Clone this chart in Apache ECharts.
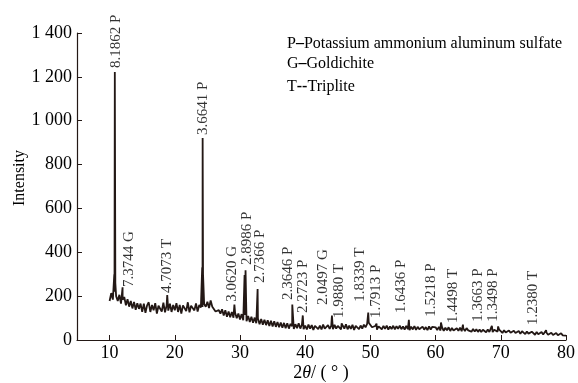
<!DOCTYPE html>
<html>
<head>
<meta charset="utf-8">
<script src="https://cdn.jsdelivr.net/npm/echarts@6/dist/echarts.min.js"></script>
<style>html,body{margin:0;padding:0;background:#fff}#c{width:578px;height:383px}</style>
</head>
<body>
<div id="c"></div>
<script>
// Background scan: 2θ from 10 to 80 in 0.25° steps (intensity values)
const bgStart = 10, bgStep = 0.25;
const bgValues = [
  178,214,184,220,200,178,206,166,184,196,158,186,152,178,144,174,138,168,142,166,
  128,166,124,158,172,128,160,136,168,120,156,164,130,170,126,158,134,166,128,160,
  136,168,128,160,120,158,166,132,172,126,156,164,135,167,130,160,148,150,164,152,
  174,146,180,152,150,130,136,136,120,140,112,136,106,130,104,128,102,124,99,121,
  94,118,90,114,86,110,82,106,79,102,76,98,72,96,70,92,68,90,64,88,
  62,86,60,82,58,80,56,78,54,76,52,74,63,50,72,54,76,52,70,49,
  66,48,70,52,68,46,64,72,50,66,48,70,52,46,68,51,66,49,69,52,
  64,70,48,66,52,72,49,65,51,69,46,64,68,50,66,52,70,58,74,79,
  72,58,50,64,47,62,67,49,64,51,66,47,62,50,65,48,63,51,66,49,
  62,47,64,50,45,61,48,63,46,60,49,44,61,47,59,45,62,48,60,64,
  58,45,60,43,57,42,56,44,58,41,55,43,39,54,42,56,40,53,41,54,
  44,51,38,50,39,49,37,48,36,47,41,35,48,37,46,36,47,49,38,47,
  43,32,45,34,31,43,33,29,42,32,30,41,28,40,31,27,39,29,26,38,
  35,24,37,26,23,36,25,22,34,24,21,33,23,20,32,22,19,31,21,18,
  20
];
// Diffraction peaks [2θ, intensity]
const peaks = [
  [10.72, 300], [10.80, 1222], [10.88, 260],
  [11.99, 240], [18.84, 205],
  [24.20, 330], [24.27, 921], [24.33, 300],
  [29.14, 162], [30.70, 296], [30.85, 318], [32.70, 232],
  [38.02, 162], [39.63, 112], [44.10, 112], [45.59, 76],
  [49.67, 125], [50.94, 75], [55.90, 92], [60.82, 80],
  [64.19, 70], [68.63, 65], [69.59, 62], [76.95, 45]
];
// Peak annotations [text, 2θ, intensity of label base]
const peakLabels = [
  ['8.1862 P', 10.92, 1240], ['7.3744 G', 12.91, 242], ['4.7073 T', 18.82, 214],
  ['3.6641 P', 24.33, 935], ['3.0620 G', 28.76, 175], ['2.8986 P', 31.06, 342],
  ['2.7366 P', 33.09, 260], ['2.3646 P', 37.42, 182], ['2.2723 P', 39.71, 123],
  ['2.0497 G', 42.68, 160], ['1.9880 T', 45.21, 100], ['1.8339 T', 48.38, 175],
  ['1.7913 P', 50.83, 100], ['1.6436 P', 54.76, 123], ['1.5218 P', 59.34, 106],
  ['1.4498 T', 62.65, 78], ['1.3663 P', 66.47, 83], ['1.3498 P', 68.76, 83],
  ['1.2380 T', 74.88, 68]
];
const xTicks = [10, 20, 30, 40, 50, 60, 70, 80];
const legendKeys = ['P', 'G', 'T'];
const legendDash = ['\u2013', '\u2013', '--'];
const legendNames = ['Potassium ammonium aluminum sulfate', 'Goldichite', 'Triplite'];

const scan = bgValues.map((v, i) => [bgStart + i * bgStep, v]).concat(peaks);
scan.sort((a, b) => a[0] - b[0]);

const FONT = 'Liberation Serif';
const INK = '#231815';
const legendTops = [36, 56, 79];
const chart = echarts.init(document.getElementById('c'));
chart.setOption({
  animation: false,
  backgroundColor: '#fff',
  textStyle: { fontFamily: FONT },
  grid: { left: 77, right: 11, top: 33, bottom: 43, containLabel: false },
  xAxis: {
    type: 'value', min: 5, max: 80,
    axisLine: { lineStyle: { color: INK, width: 1.2 } },
    axisTick: { inside: true, length: 5, customValues: xTicks, lineStyle: { color: INK } },
    axisLabel: { customValues: xTicks, color: '#000', fontSize: 18, fontFamily: FONT, margin: 4 },
    splitLine: { show: false }
  },
  yAxis: {
    type: 'value', min: 0, max: 1400, interval: 200,
    axisLine: { show: true, lineStyle: { color: INK, width: 1.2 } },
    axisTick: { show: true, inside: true, length: 5, lineStyle: { color: INK } },
    axisLabel: {
      color: '#000', fontSize: 18, fontFamily: FONT, margin: 5,
      formatter: v => v >= 1000 ? Math.floor(v / 1000) + ' ' + String(v % 1000).padStart(3, '0') : String(v)
    },
    splitLine: { show: false }
  },
  series: [
    {
      type: 'line', data: scan, showSymbol: false, symbol: 'none',
      lineStyle: { color: INK, width: 1.8 }
    },
    {
      type: 'scatter', symbolSize: 0, silent: true,
      data: peakLabels.map(p => ({ value: [p[1], p[2]], name: p[0] })),
      label: {
        show: true, position: [0, 0], rotate: 90, align: 'left', verticalAlign: 'middle',
        formatter: p => p.name, fontSize: 15, fontFamily: FONT, color: '#000'
      }
    }
  ],
  graphic: legendNames.map((n, i) => ({
    type: 'text', left: 287, top: legendTops[i],
    style: {
      text: legendKeys[i] + '{d|' + legendDash[i] + '}' + n,
      font: '16px "Liberation Serif"', fill: '#000',
      rich: { d: { fontWeight: 'bold', fontSize: 16, fontFamily: FONT, fill: '#000' } }
    }
  })).concat([
    { type: 'text', x: 20, y: 178, rotation: Math.PI / 2,
      style: { text: 'Intensity', font: '16px "Liberation Serif"', fill: '#000', align: 'center', verticalAlign: 'middle' } },
    { type: 'text', x: 321, y: 373,
      style: {
        text: '2{i|\u03b8}/ ( \u00b0 )', align: 'center', verticalAlign: 'middle', fill: '#000',
        font: '18px "Liberation Serif"',
        rich: { i: { fontStyle: 'italic', fontSize: 18, fontFamily: FONT, fill: '#000' } }
      } }
  ])
});
</script>
</body>
</html>
